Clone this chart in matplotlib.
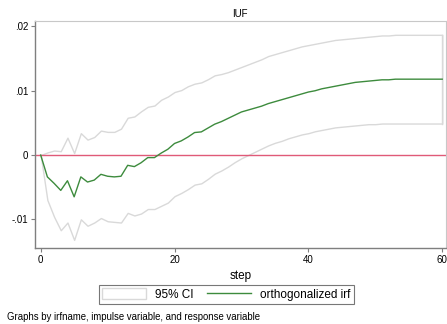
import matplotlib
matplotlib.use('Agg')
import matplotlib.pyplot as plt
from matplotlib.patches import Patch
from matplotlib.lines import Line2D
import numpy as np

plt.rcParams['font.family'] = ['Liberation Sans', 'DejaVu Sans']

steps = np.arange(61)

irf = [0.0, -0.0034, -0.0044, -0.0055, -0.0040, -0.0065, -0.0034, -0.0042, -0.0039, -0.0030,
       -0.0033, -0.0034, -0.0033, -0.0016, -0.0018, -0.0012, -0.0004, -0.0004, 0.0003, 0.0009,
       0.0018, 0.0022, 0.0028, 0.0035, 0.0036, 0.0042, 0.0048, 0.0052, 0.0057, 0.0062,
       0.0067, 0.0070, 0.0073, 0.0076, 0.0080, 0.0083, 0.0086, 0.0089, 0.0092, 0.0095,
       0.0098, 0.0100, 0.0103, 0.0105, 0.0107, 0.0109, 0.0111, 0.0113, 0.0114, 0.0115,
       0.0116, 0.0117, 0.0117, 0.0118, 0.0118, 0.0118, 0.0118, 0.0118, 0.0118, 0.0118,
       0.0118]

ci_upper = [0.0, 0.0004, 0.0007, 0.0006, 0.0027, 0.0003, 0.0034, 0.0024, 0.0028, 0.0038,
            0.0036, 0.0036, 0.0041, 0.0058, 0.0060, 0.0068, 0.0075, 0.0077, 0.0086, 0.0091,
            0.0098, 0.0101, 0.0107, 0.0111, 0.0113, 0.0118, 0.0124, 0.0126, 0.0129, 0.0133,
            0.0137, 0.0141, 0.0145, 0.0149, 0.0154, 0.0157, 0.0160, 0.0163, 0.0166, 0.0169,
            0.0171, 0.0173, 0.0175, 0.0177, 0.0179, 0.0180, 0.0181, 0.0182, 0.0183, 0.0184,
            0.0185, 0.0186, 0.0186, 0.0187, 0.0187, 0.0187, 0.0187, 0.0187, 0.0187, 0.0187,
            0.0187]

ci_lower = [0.0, -0.0070, -0.0096, -0.0117, -0.0105, -0.0132, -0.0100, -0.0110, -0.0105, -0.0098,
            -0.0103, -0.0104, -0.0105, -0.0090, -0.0094, -0.0091, -0.0084, -0.0084, -0.0079, -0.0074,
            -0.0064, -0.0059, -0.0053, -0.0046, -0.0044, -0.0037, -0.0029, -0.0024, -0.0018, -0.0011,
            -0.0005, 0.0000, 0.0005, 0.0010, 0.0015, 0.0019, 0.0022, 0.0026, 0.0029, 0.0032,
            0.0034, 0.0037, 0.0039, 0.0041, 0.0043, 0.0044, 0.0045, 0.0046, 0.0047, 0.0048,
            0.0048, 0.0049, 0.0049, 0.0049, 0.0049, 0.0049, 0.0049, 0.0049, 0.0049, 0.0049,
            0.0049]

yticks = [-0.01, 0, 0.01, 0.02]
yticklabels = ['-.01', '0', '.01', '.02']
xticks = [0, 20, 40, 60]

ci_edge = '#d9d9d9'
green = '#3d8b3d'
axis_gray = '#7f7f7f'

fig = plt.figure(figsize=(4.47, 3.24), dpi=100)
ax = fig.add_axes([0.0783, 0.2346, 0.92, 0.7004])

ax.fill_between(steps, ci_lower, ci_upper, facecolor='white', edgecolor=ci_edge, lw=1.0)
ax.plot([steps[-1], steps[-1]], [ci_lower[-1], ci_upper[-1]], color=ci_edge, lw=1.0)
ax.axhline(0, color='#e05a78', lw=1.0)
ax.plot(steps, irf, color=green, lw=1.0)

ax.set_xlim(-0.85, 60.6)
ax.set_ylim(-0.01446, 0.02084)
ax.set_xticks(xticks)
ax.set_yticks(yticks)
ax.set_yticklabels(yticklabels)
ax.tick_params(labelsize=7, length=3, width=0.8, color=axis_gray, pad=2)

for side in ['top', 'right']:
    ax.spines[side].set_color('#c8c8c8')
    ax.spines[side].set_linewidth(0.8)
for side in ['left', 'bottom']:
    ax.spines[side].set_color(axis_gray)
    ax.spines[side].set_linewidth(1.0)

ax.set_xlabel('step', fontsize=8.5, labelpad=4)
fig.text(0.537, 0.957, 'IUF', ha='center', va='center', fontsize=7)

handles = [Patch(facecolor='white', edgecolor=ci_edge, lw=1.0),
           Line2D([], [], color=green, lw=1.0)]
leg = fig.legend(handles, ['95% CI', 'orthogonalized irf'], loc='center',
                 bbox_to_anchor=(0.506, 0.091), ncol=2, fontsize=8.5,
                 frameon=True, fancybox=False, edgecolor='#555555',
                 handlelength=3.7, handleheight=1.0, columnspacing=1.2,
                 handletextpad=0.75, borderpad=0.3)
leg.get_frame().set_linewidth(0.8)

fig.text(0.016, 0.021, 'Graphs by irfname, impulse variable, and response variable',
         ha='left', va='center', fontsize=6.9)

fig.savefig('out.png', dpi=100)
